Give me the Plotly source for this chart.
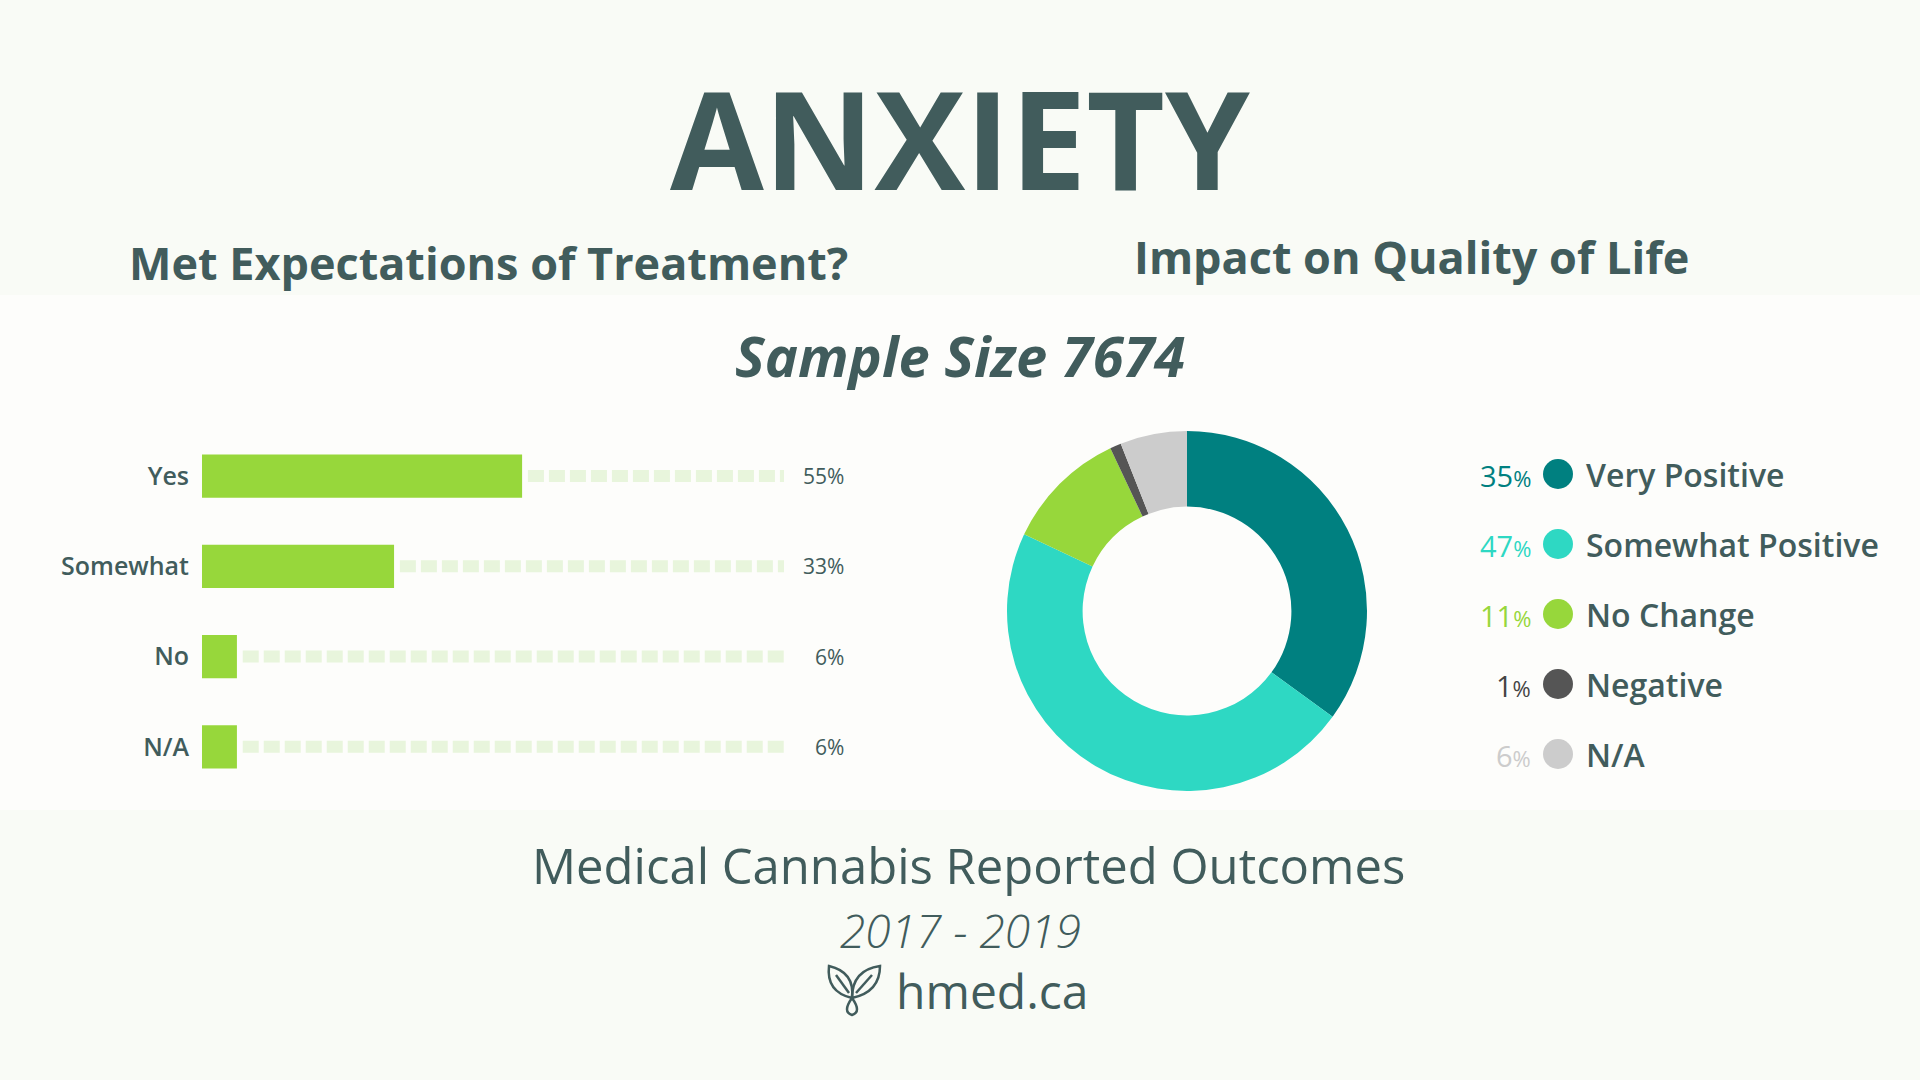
import plotly.graph_objects as go

# --- data ---
exp_labels = ["Yes", "Somewhat", "No", "N/A"]
exp_values = [55, 33, 6, 6]

qol_labels = ["Very Positive", "Somewhat Positive", "No Change", "Negative", "N/A"]
qol_values = [35, 47, 11, 1, 6]
qol_colors = ["#008080", "#2ed8c3", "#97d73b", "#555555", "#cccccc"]

sample_size = 7674
years = "2017 - 2019"

# --- style ---
W, H = 1920, 1080
TXT = "#415c5c"
GREEN = "#97d73b"
TRACK = "#e8f5dc"
FONT = "Open Sans"


def px(x):
    return x / W


def py(y):
    return 1 - y / H


fig = go.Figure()

# dashed track from end of each bar to 100%
for lab, v in zip(exp_labels, exp_values):
    fig.add_trace(go.Scatter(
        x=[v + 1, 100], y=[lab, lab], mode="lines",
        line=dict(color=TRACK, width=12, dash="16px,5px"),
        hoverinfo="skip", showlegend=False,
    ))

fig.add_trace(go.Bar(
    x=exp_values, y=exp_labels, orientation="h",
    marker=dict(color=GREEN, line=dict(width=0)),
    width=0.48, showlegend=False,
    hovertemplate="%{y}: %{x}%<extra></extra>",
))

# percentage labels on the right of each track
for lab, v in zip(exp_labels, exp_values):
    fig.add_annotation(
        x=100, y=lab, xref="x", yref="y", text=f"{v}%",
        xanchor="right", xshift=62, showarrow=False,
        font=dict(family=FONT, size=21, color=TXT),
    )

# donut
fig.add_trace(go.Pie(
    labels=qol_labels, values=qol_values, hole=0.58, sort=False,
    direction="clockwise", rotation=0,
    marker=dict(colors=qol_colors, line=dict(width=0)),
    textinfo="none", showlegend=False,
    domain=dict(x=[px(1187 - 180), px(1187 + 180)], y=[py(611 + 180), py(611 - 180)]),
    hovertemplate="%{label}: %{value}%<extra></extra>",
))

# custom legend
row_y = [474, 544, 614, 684, 754]
for i, (lab, v, c) in enumerate(zip(qol_labels, qol_values, qol_colors)):
    y = row_y[i]
    fig.add_shape(
        type="circle", xref="paper", yref="paper",
        x0=px(1558 - 15), x1=px(1558 + 15), y0=py(y + 15), y1=py(y - 15),
        fillcolor=c, line=dict(width=0),
    )
    fig.add_annotation(
        x=px(1533), y=py(y + 1), xref="paper", yref="paper",
        text=f"{v}<span style='font-size:22px'>%</span>",
        xanchor="right", yanchor="middle", showarrow=False,
        font=dict(family=FONT, size=29, color=c if c != "#555555" else "#444444"),
    )
    fig.add_annotation(
        x=px(1584), y=py(y), xref="paper", yref="paper",
        text=lab, xanchor="left", yanchor="middle", showarrow=False,
        font=dict(family=FONT, size=32, color=TXT, weight=600),
    )

# titles
texts = [
    (960, 137, "ANXIETY", 136, 700, "normal"),
    (488, 263, "Met Expectations of Treatment?", 45, 700, "normal"),
    (1411, 256, "Impact on Quality of Life", 45, 700, "normal"),
    (960, 355, f"Sample Size {sample_size}", 56, 700, "italic"),
    (969, 865, "Medical Cannabis Reported Outcomes", 49, 400, "normal"),
    (960, 930, years, 46, 300, "italic"),
    (992, 990, "hmed.ca", 48, 400, "normal"),
]
for x, y, t, s, wgt, sty in texts:
    fig.add_annotation(
        x=px(x), y=py(y), xref="paper", yref="paper", text=t,
        xanchor="center", yanchor="middle", showarrow=False,
        font=dict(family=FONT, size=s, color=TXT, weight=wgt, style=sty),
    )

# leaf icon next to the url
leaf_l = f"M {px(852)},{py(998)} Q {px(826)},{py(992)} {px(829)},{py(966)} Q {px(855)},{py(972)} {px(852)},{py(998)} Z"
leaf_r = f"M {px(852)},{py(998)} Q {px(880)},{py(992)} {px(880)},{py(966)} Q {px(852)},{py(970)} {px(852)},{py(998)} Z"
vein_l = f"M {px(849)},{py(993)} L {px(836)},{py(975)}"
vein_r = f"M {px(856)},{py(993)} L {px(872)},{py(975)}"
stem = f"M {px(852)},{py(998)} Q {px(842)},{py(1012)} {px(852)},{py(1015)} Q {px(862)},{py(1012)} {px(852)},{py(998)}"
for p in [leaf_l, leaf_r, vein_l, vein_r, stem]:
    fig.add_shape(type="path", path=p, xref="paper", yref="paper",
                  line=dict(color=TXT, width=2.5))

# soft white panel behind the charts
fig.add_shape(type="rect", xref="paper", yref="paper", layer="below",
              x0=0, x1=1, y0=py(810), y1=py(295),
              fillcolor="#ffffff", opacity=0.6, line=dict(width=0))

fig.update_xaxes(range=[0, 100], domain=[px(202), px(784)], visible=False, fixedrange=True)
fig.update_yaxes(
    domain=[py(792), py(431)], range=[3.5, -0.5], categoryorder="array",
    categoryarray=exp_labels, showgrid=False, zeroline=False, showline=False,
    ticks="", ticklabelstandoff=12,
    tickfont=dict(family=FONT, size=25, color=TXT, weight=600),
)

fig.update_layout(
    width=W, height=H,
    margin=dict(l=0, r=0, t=0, b=0),
    paper_bgcolor="#f9fbf6", plot_bgcolor="rgba(0,0,0,0)",
)

fig.write_html(
    "out.html",
    config={"displayModeBar": False},
    post_script="document.body.style.margin='0';document.body.style.overflow='hidden';",
)
